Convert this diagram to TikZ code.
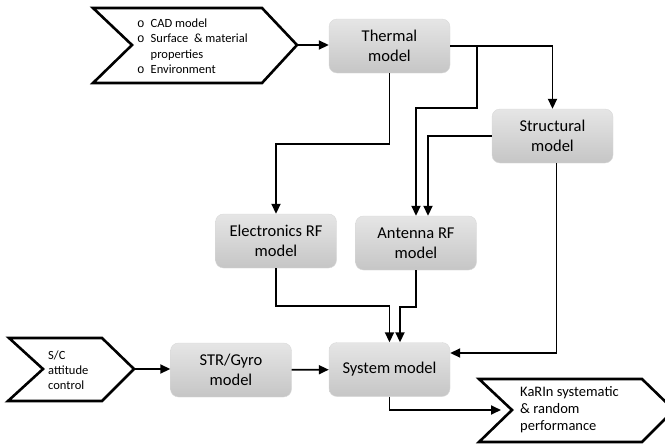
\documentclass[tikz,border=0pt]{standalone}
\usepackage{fontspec}
\setmainfont{Carlito}
\newfontfamily\bulletfont{Liberation Mono}
\usetikzlibrary{arrows.meta}

\begin{document}
\begin{tikzpicture}[x=1pt, y=-1pt,
    model/.style={rounded corners=8pt, top color=gray!20, bottom color=gray!45, draw=gray!30, line width=0.4pt,
        minimum width=121pt, minimum height=54pt, inner sep=0pt, align=center,
        font=\fontsize{16.5}{20}\selectfont},
    flow/.style={-{Triangle[length=10pt,width=9pt]}, line width=1.8pt},
    chevron/.style={line width=2.6pt, line join=miter},
    small/.style={align=left, inner sep=0pt, anchor=west}]
    \useasboundingbox (0,0) rectangle (665,445);

    % inputs and outputs
    \draw[chevron] (93,8) -- (262,8) -- (297,45) coordinate (intip) -- (262,83) -- (93,83) -- (132,45) -- cycle;
    \node (inputs) [small, font=\fontsize{12.5}{15.5}\selectfont] at (137,47.5)
        {\begin{tabular}{@{}l@{\hspace{6pt}}l@{}}
            {\bulletfont o} & CAD model\\
            {\bulletfont o} & Surface \ \& material\\
                            & properties\\
            {\bulletfont o} & Environment
        \end{tabular}};
    \draw[chevron] (9,338) -- (102,338) -- (134,369) coordinate (sctip) -- (102,401) -- (8,401) -- (43,369) -- cycle;
    \node (attitude) [small, font=\fontsize{12.5}{15}\selectfont] at (48,370) {S/C\\attitude\\control};
    \begin{scope}
        \clip (0,0) rectangle (665,445);
        \draw[chevron] (479,379) -- (642,379) -- (674,410) -- (642,442) -- (479,442) -- (512,410) coordinate (outnotch) -- cycle;
    \end{scope}
    \node (perf) [small, font=\fontsize{14.5}{17}\selectfont] at (520,410) {KaRIn systematic\\\& random\\performance};

    % models
    \node (thermal) [model] at (389.5,46) {Thermal\\model};
    \node (struct) [model] at (552.5,136) {Structural\\model};
    \node (elec) [model] at (276,241) {Electronics RF\\model};
    \node (antenna) [model] at (416,243) {Antenna RF\\model};
    \node (str) [model] at (231,370) {STR/Gyro\\model};
    \node (system) [model] at (389.5,369.5) {System model};

    % connections
    \draw[flow] (intip) -- (intip -| thermal.west);
    \draw[flow] (thermal.east) -| (struct.north);
    \draw[flow] ([xshift=27pt]thermal.east) -- ++(0,62) -| (antenna.north);
    \draw[flow] (struct.west) -| ([xshift=12pt]antenna.north);
    \draw[flow] (thermal.south) -- ++(0,71) -| (elec.north);
    \draw[flow] (elec.south) -- ++(0,38) -| (system.north);
    \draw[flow] (antenna.south) -- ++(0,37) -| ([xshift=10.5pt]system.north);
    \draw[flow] ([xshift=4pt]struct.south) |- ([yshift=16.5pt]system.east);
    \draw[flow] (sctip) -- (sctip -| str.west);
    \draw[flow] (str) -- (system);
    \draw[flow, shorten >=11pt] (system.south) |- (outnotch);
\end{tikzpicture}
\end{document}
